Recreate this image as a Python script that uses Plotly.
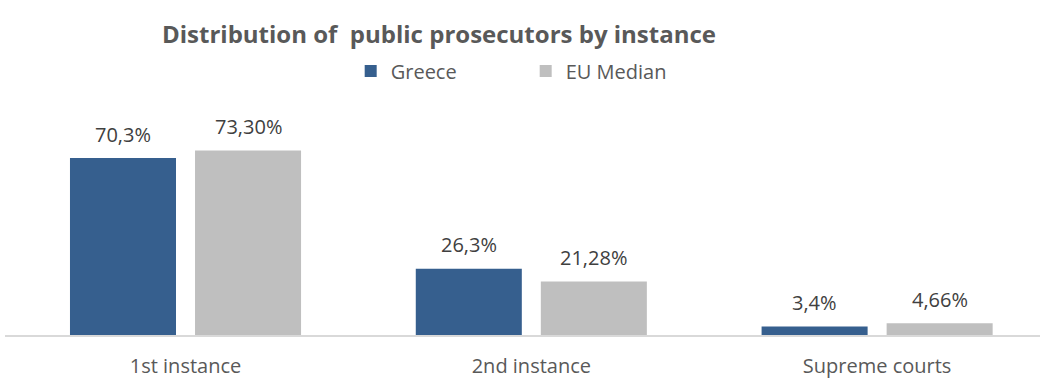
import plotly.graph_objects as go

categories = ["1st instance", "2nd instance", "Supreme courts"]
greece = [70.3, 26.3, 3.4]
greece_labels = ["70,3%", "26,3%", "3,4%"]
eu_median = [73.30, 21.28, 4.66]
eu_labels = ["73,30%", "21,28%", "4,66%"]

FONT = "Open Sans"
BAR_W = 0.3066
HALF_SEP = 0.1808

xpos = list(range(len(categories)))

fig = go.Figure()
fig.add_trace(go.Bar(
    x=xpos, y=greece, name="Greece", width=BAR_W, offset=-HALF_SEP - BAR_W / 2,
    marker=dict(color="#365F8E", line=dict(width=0)),
))
fig.add_trace(go.Bar(
    x=xpos, y=eu_median, name="EU Median", width=BAR_W, offset=HALF_SEP - BAR_W / 2,
    marker=dict(color="#BFBFBF", line=dict(width=0)),
))

annotations = []
for i, (v, t) in enumerate(zip(greece, greece_labels)):
    annotations.append(dict(x=i - HALF_SEP, y=v, text=t, showarrow=False,
                            yanchor="middle", yshift=24,
                            font=dict(size=20, color="#404040", family=FONT)))
for i, (v, t) in enumerate(zip(eu_median, eu_labels)):
    annotations.append(dict(x=i + HALF_SEP, y=v, text=t, showarrow=False,
                            yanchor="middle", yshift=24,
                            font=dict(size=20, color="#404040", family=FONT)))

fig.update_layout(
    width=1045, height=378,
    margin=dict(l=5, r=5, t=100, b=43, autoexpand=False),
    paper_bgcolor="white", plot_bgcolor="white",
    barmode="overlay",
    title=dict(text="<b>Distribution of  public prosecutors by instance</b>",
               x=439 / 1045, xanchor="center", xref="container",
               y=1 - 35 / 378, yref="container", yanchor="middle",
               font=dict(size=24, color="#595959", family=FONT)),
    legend=dict(orientation="h", x=0.334, xanchor="left", y=1 - 71 / 378,
                yref="container", yanchor="middle",
                font=dict(size=20, color="#595959", family=FONT),
                traceorder="normal", itemwidth=30, entrywidth=130,
                bgcolor="rgba(0,0,0,0)"),
    showlegend=True,
    annotations=annotations,
)
fig.update_xaxes(showline=True, linecolor="#D9D9D9", linewidth=1.5, ticks="",
                 tickvals=xpos, ticktext=categories, range=[-0.522, 2.471],
                 tickfont=dict(size=20, color="#595959", family=FONT),
                 ticklabelstandoff=12, automargin=False,
                 showgrid=False, zeroline=False)
fig.update_yaxes(visible=False, range=[0, 93.4], showgrid=False, automargin=False)

fig.write_html("out.html", config={"displayModeBar": False},
               post_script="document.body.style.margin='0';")
